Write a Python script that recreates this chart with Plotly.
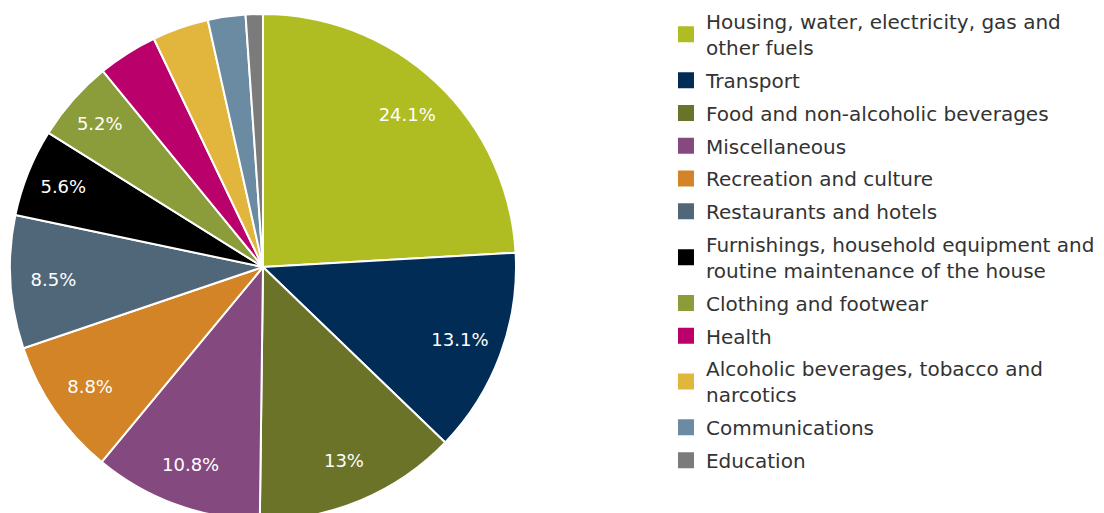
import plotly.graph_objects as go

categories = [
    "Housing, water, electricity, gas and<br>other fuels",
    "Transport",
    "Food and non-alcoholic beverages",
    "Miscellaneous",
    "Recreation and culture",
    "Restaurants and hotels",
    "Furnishings, household equipment and<br>routine maintenance of the house",
    "Clothing and footwear",
    "Health",
    "Alcoholic beverages, tobacco and<br>narcotics",
    "Communications",
    "Education",
]
shares = [24.1, 13.1, 13.0, 10.8, 8.8, 8.5, 5.6, 5.2, 3.8, 3.6, 2.4, 1.1]
shown_labels = ["24.1%", "13.1%", "13%", "10.8%", "8.8%", "8.5%", "5.6%", "5.2%", "", "", "", ""]
colors = ["#AFBC22", "#002C55", "#6A7328", "#844A80", "#D38426", "#506779",
          "#000000", "#8B9C3A", "#BA006B", "#E2B63D", "#6B8BA3", "#7B7B7B"]

W, H = 1104, 513
pie_domain = dict(x=[0, 510 / W], y=[0, 1])

fig = go.Figure()
# main pie (slices)
fig.add_trace(go.Pie(
    labels=categories,
    values=shares,
    textinfo="none",
    sort=False,
    direction="clockwise",
    rotation=0,
    marker=dict(colors=colors, line=dict(color="white", width=2)),
    hovertemplate="%{label}: %{value}%<extra></extra>",
    domain=pie_domain,
    showlegend=False,
))
# transparent ring carrying the percentage labels further out
fig.add_trace(go.Pie(
    labels=categories,
    values=shares,
    text=shown_labels,
    textinfo="text",
    textposition="inside",
    insidetextorientation="horizontal",
    hole=0.66,
    sort=False,
    direction="clockwise",
    rotation=0,
    marker=dict(colors=["rgba(0,0,0,0)"] * len(shares), line=dict(width=0)),
    textfont=dict(color="white", size=18, family="DejaVu Sans"),
    hoverinfo="skip",
    domain=pie_domain,
    showlegend=False,
))
# legend entries
for i, (lab, col) in enumerate(zip(categories, colors)):
    fig.add_trace(go.Scatter(
        x=[None], y=[None], mode="markers", name=lab,
        marker=dict(symbol="square", size=20, color=col),
        legendgroup=f"g{i}", showlegend=True, hoverinfo="skip",
    ))

fig.update_layout(
    width=W,
    height=H,
    margin=dict(l=0, r=0, t=6, b=1, autoexpand=False),
    paper_bgcolor="white",
    plot_bgcolor="white",
    font=dict(family="DejaVu Sans", color="#333333"),
    xaxis=dict(visible=False),
    yaxis=dict(visible=False),
    legend=dict(
        x=0.596, xanchor="left",
        y=1.024, yanchor="top",
        font=dict(size=20, color="#333333", family="DejaVu Sans"),
        bgcolor="rgba(0,0,0,0)",
        tracegroupgap=3.8,
        itemsizing="trace",
        maxheight=560,
    ),
    showlegend=True,
)

fig.write_html("out.html")
